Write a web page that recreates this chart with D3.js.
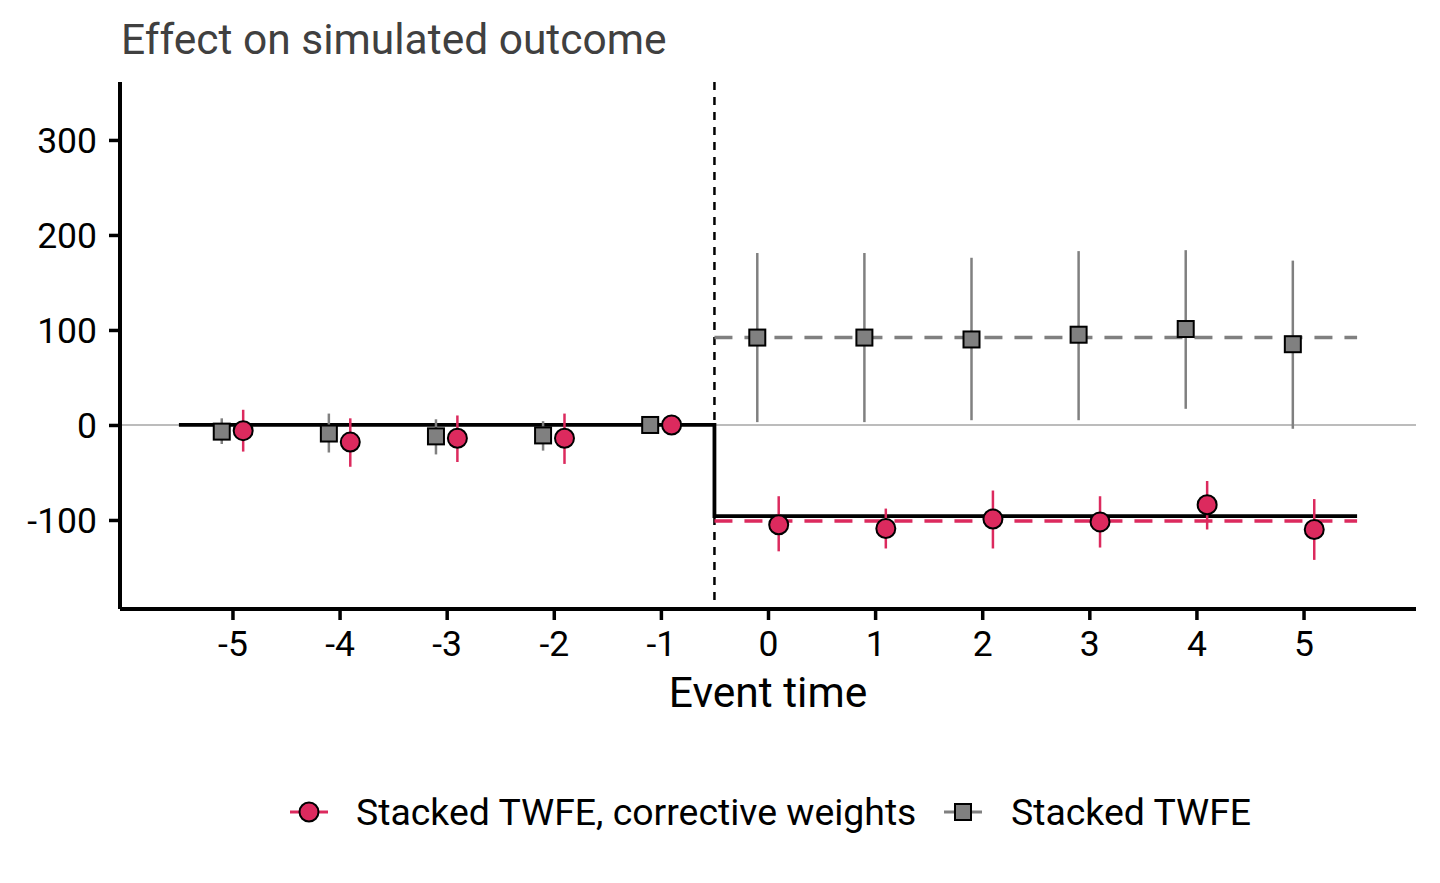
<!DOCTYPE html>
<html>
<head>
<meta charset="utf-8">
<script src="https://cdn.jsdelivr.net/npm/d3@7"></script>
<style>
  body { margin: 0; background: #fff; font-family: Roboto, sans-serif; }
  svg text { font-family: Roboto, sans-serif; }
</style>
</head>
<body>
<div id="graphic"></div>
<script>
// event times
var eventTimes = [-5, -4, -3, -2, -1, 0, 1, 2, 3, 4, 5];

// Stacked TWFE, corrective weights (circles)
var weightedEst = [-6, -18, -14, -14, 0, -105, -109, -99, -102, -84, -110];
var weightedLo  = [-28, -44, -39, -41, null, -133, -130, -130, -129, -110, -142];
var weightedHi  = [16, 7, 10, 12, null, -75, -88, -69, -75, -59, -78];

// Stacked TWFE (squares)
var naiveEst = [-7, -9, -12, -11, 0, 92, 92, 90, 95, 101, 85];
var naiveLo  = [-20, -29, -31, -27, null, 3, 3, 5, 5, 17, -4];
var naiveHi  = [7, 12, 6, 4, null, 181, 181, 176, 183, 184, 173];

// post-period averages and true effect
var weightedMean = -101;
var naiveMean = 92;
var trueEffect = -96;

var yTicks = [-100, 0, 100, 200, 300];
var xTicks = eventTimes;

var seriesNames = ["Stacked TWFE, corrective weights", "Stacked TWFE"];
var pink = "#dc2a5e";
var grey = "#808080";

var width = 1440, height = 883;
var margin = { top: 82, right: 24, bottom: 274, left: 120 };

var svg = d3.select("#graphic").append("svg")
  .attr("width", width)
  .attr("height", height);

var x = d3.scaleLinear()
  .domain([-6.05, 6.05])
  .range([margin.left, width - margin.right]);

var y = d3.scaleLinear()
  .domain([-193.7, 361])
  .range([height - margin.bottom, margin.top]);

var offset = 0.1;

// title
svg.append("text")
  .attr("x", 121)
  .attr("y", 54)
  .attr("font-size", 42.5)
  .attr("fill", "#404040")
  .text("Effect on simulated outcome");

// zero reference line
svg.append("line")
  .attr("x1", x.range()[0]).attr("x2", x.range()[1])
  .attr("y1", y(0)).attr("y2", y(0))
  .attr("stroke", "#a6a6a6")
  .attr("stroke-width", 1.5);

// vertical dashed treatment line
svg.append("line")
  .attr("x1", x(-0.5)).attr("x2", x(-0.5))
  .attr("y1", y.range()[1]).attr("y2", y.range()[0])
  .attr("stroke", "#000")
  .attr("stroke-width", 2.5)
  .attr("stroke-dasharray", "8,7");

// post-period mean lines
svg.append("line")
  .attr("x1", x(-0.5)).attr("x2", x(5.5))
  .attr("y1", y(naiveMean)).attr("y2", y(naiveMean))
  .attr("stroke", grey).attr("stroke-width", 3.5)
  .attr("stroke-dasharray", "18,12");

svg.append("line")
  .attr("x1", x(-0.5)).attr("x2", x(5.5))
  .attr("y1", y(weightedMean)).attr("y2", y(weightedMean))
  .attr("stroke", pink).attr("stroke-width", 3.5)
  .attr("stroke-dasharray", "18,12");

// true effect step line
var step = d3.line()
  .x(d => x(d[0]))
  .y(d => y(d[1]));

svg.append("path")
  .attr("d", step([[-5.5, 0], [-0.5, 0], [-0.5, trueEffect], [5.5, trueEffect]]))
  .attr("fill", "none")
  .attr("stroke", "#000")
  .attr("stroke-width", 3.8);

// build data
var naiveData = eventTimes.map((t, i) => ({ t: t, est: naiveEst[i], lo: naiveLo[i], hi: naiveHi[i] }));
var weightedData = eventTimes.map((t, i) => ({ t: t, est: weightedEst[i], lo: weightedLo[i], hi: weightedHi[i] }));

// error bars
svg.selectAll("line.ciNaive")
  .data(naiveData.filter(d => d.lo != null))
  .join("line")
  .attr("class", "ciNaive")
  .attr("x1", d => x(d.t - offset)).attr("x2", d => x(d.t - offset))
  .attr("y1", d => y(d.lo)).attr("y2", d => y(d.hi))
  .attr("stroke", grey).attr("stroke-width", 2.5);

svg.selectAll("line.ciWeighted")
  .data(weightedData.filter(d => d.lo != null))
  .join("line")
  .attr("class", "ciWeighted")
  .attr("x1", d => x(d.t + offset)).attr("x2", d => x(d.t + offset))
  .attr("y1", d => y(d.lo)).attr("y2", d => y(d.hi))
  .attr("stroke", pink).attr("stroke-width", 2.5);

// squares
var sq = 16;
svg.selectAll("rect.naive")
  .data(naiveData)
  .join("rect")
  .attr("class", "naive")
  .attr("x", d => x(d.t - offset) - sq / 2)
  .attr("y", d => y(d.est) - sq / 2)
  .attr("width", sq).attr("height", sq)
  .attr("fill", grey)
  .attr("stroke", "#000").attr("stroke-width", 2);

// circles
svg.selectAll("circle.weighted")
  .data(weightedData)
  .join("circle")
  .attr("class", "weighted")
  .attr("cx", d => x(d.t + offset))
  .attr("cy", d => y(d.est))
  .attr("r", 9.5)
  .attr("fill", pink)
  .attr("stroke", "#000").attr("stroke-width", 2);

// axes
var xAxis = d3.axisBottom(x).tickValues(xTicks).tickSize(11).tickPadding(11).tickFormat(d3.format("d"));
var yAxis = d3.axisLeft(y).tickValues(yTicks).tickSize(11).tickPadding(12).tickFormat(d3.format("d"));

var gx = svg.append("g")
  .attr("transform", "translate(0," + y.range()[0] + ")")
  .call(xAxis);
gx.select(".domain").attr("d", "M" + x.range()[0] + ",0H" + x.range()[1]);

var gy = svg.append("g")
  .attr("transform", "translate(" + x.range()[0] + ",0)")
  .call(yAxis);
gy.select(".domain").attr("d", "M0," + y.range()[0] + "V" + y.range()[1]);

[gx, gy].forEach(g => {
  g.select(".domain").attr("stroke", "#000").attr("stroke-width", 4);
  g.selectAll(".tick line").attr("stroke", "#000").attr("stroke-width", 3.5);
  g.selectAll(".tick text").attr("font-size", 35.5).attr("fill", "#000");
});
gx.selectAll(".tick text").text(d => d < 0 ? "-" + Math.abs(d) : d);
gy.selectAll(".tick text").text(d => d < 0 ? "-" + Math.abs(d) : d).attr("dy", "0.35em");

// x axis title
svg.append("text")
  .attr("x", x(0))
  .attr("y", 707)
  .attr("text-anchor", "middle")
  .attr("font-size", 42.5)
  .attr("fill", "#000")
  .text("Event time");

// legend
var legend = svg.append("g").attr("transform", "translate(0,812)");

var l1 = legend.append("g").attr("transform", "translate(309,0)");
l1.append("line").attr("x1", -19).attr("x2", 19).attr("stroke", pink).attr("stroke-width", 3);
l1.append("circle").attr("r", 9.5).attr("fill", pink).attr("stroke", "#000").attr("stroke-width", 2);
legend.append("text").attr("x", 356).attr("y", 0).attr("dy", "0.35em")
  .attr("font-size", 37.4).attr("fill", "#000").text(seriesNames[0]);

var l2 = legend.append("g").attr("transform", "translate(963,0)");
l2.append("line").attr("x1", -19).attr("x2", 19).attr("stroke", grey).attr("stroke-width", 3);
l2.append("rect").attr("x", -sq / 2).attr("y", -sq / 2).attr("width", sq).attr("height", sq)
  .attr("fill", grey).attr("stroke", "#000").attr("stroke-width", 2);
legend.append("text").attr("x", 1011).attr("y", 0).attr("dy", "0.35em")
  .attr("font-size", 37.4).attr("fill", "#000").text(seriesNames[1]);
</script>
</body>
</html>
